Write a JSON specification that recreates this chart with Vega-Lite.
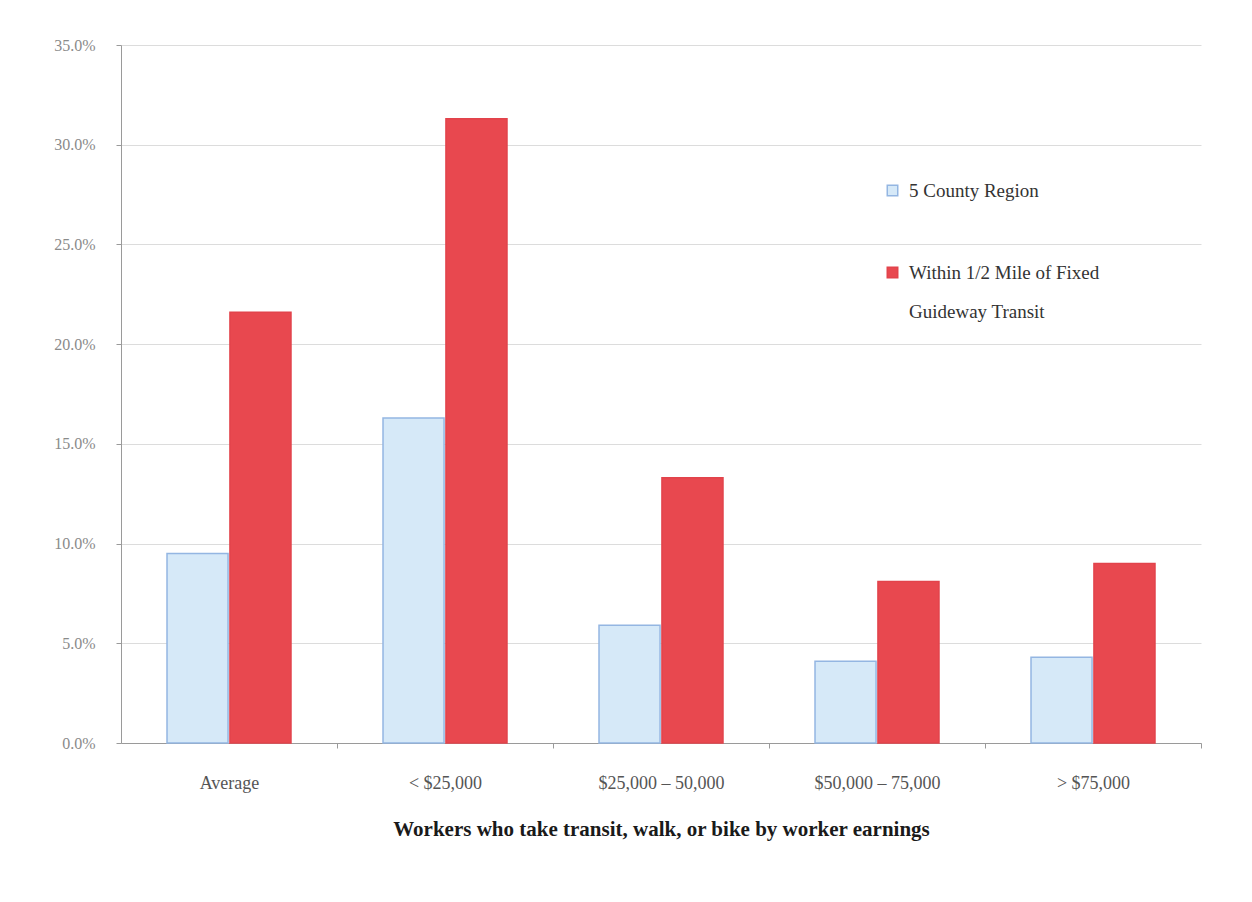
{
  "$schema": "https://vega.github.io/schema/vega-lite/v6.json",
  "autosize": {"type": "none"},
  "width": 1080,
  "height": 698,
  "padding": {"left": 121, "top": 45, "right": 51, "bottom": 159},
  "background": "white",
  "config": {
    "view": {"stroke": null},
    "font": "Liberation Serif",
    "style": {"guide-label": {"lineHeight": 39}}
  },
  "data": {
    "values": [
      {"earnings": "Average", "series": "5 County Region", "share": 9.5},
      {"earnings": "Average", "series": "Within 1/2 Mile of Fixed Guideway Transit", "share": 21.6},
      {"earnings": "< $25,000", "series": "5 County Region", "share": 16.3},
      {"earnings": "< $25,000", "series": "Within 1/2 Mile of Fixed Guideway Transit", "share": 31.3},
      {"earnings": "$25,000 – 50,000", "series": "5 County Region", "share": 5.9},
      {"earnings": "$25,000 – 50,000", "series": "Within 1/2 Mile of Fixed Guideway Transit", "share": 13.3},
      {"earnings": "$50,000 – 75,000", "series": "5 County Region", "share": 4.1},
      {"earnings": "$50,000 – 75,000", "series": "Within 1/2 Mile of Fixed Guideway Transit", "share": 8.1},
      {"earnings": "> $75,000", "series": "5 County Region", "share": 4.3},
      {"earnings": "> $75,000", "series": "Within 1/2 Mile of Fixed Guideway Transit", "share": 9.0}
    ]
  },
  "mark": {"type": "bar", "strokeWidth": 1.5},
  "encoding": {
    "x": {
      "field": "earnings",
      "type": "nominal",
      "sort": ["Average", "< $25,000", "$25,000 – 50,000", "$50,000 – 75,000", "> $75,000"],
      "scale": {"paddingInner": 0.426, "paddingOuter": 0.213},
      "axis": {
        "title": "Workers who take transit, walk, or bike by worker earnings",
        "titleFont": "Liberation Serif",
        "titleFontSize": 21,
        "titleFontWeight": "bold",
        "titleColor": "#1a1a1a",
        "titlePadding": 26,
        "labelAngle": 0,
        "labelFont": "Liberation Serif",
        "labelFontSize": 18,
        "labelColor": "#555555",
        "labelPadding": 26,
        "labelOffset": -108,
        "domainColor": "#9a9a9a",
        "tickColor": "#9a9a9a",
        "tickOffset": 108,
        "tickSize": 5
      }
    },
    "xOffset": {
      "field": "series",
      "type": "nominal",
      "scale": {"paddingInner": 0.03}
    },
    "y": {
      "field": "share",
      "type": "quantitative",
      "scale": {"domain": [0, 35]},
      "axis": {
        "title": null,
        "values": [0, 5, 10, 15, 20, 25, 30, 35],
        "labelExpr": "format(datum.value, '.1f') + '%'",
        "labelFont": "Liberation Serif",
        "labelFontSize": 16,
        "labelColor": "#8a8a8a",
        "labelPadding": 21,
        "domainColor": "#9a9a9a",
        "tickColor": "#9a9a9a",
        "tickSize": 5,
        "gridColor": "#dcdcdc",
        "gridWidth": 1
      }
    },
    "color": {
      "field": "series",
      "type": "nominal",
      "scale": {"range": ["#d6e9f8", "#e8484f"]},
      "legend": {
        "title": null,
        "orient": "none",
        "legendX": 762,
        "legendY": 136,
        "symbolType": "square",
        "symbolSize": 110,
        "symbolStrokeWidth": 1.5,
        "labelFont": "Liberation Serif",
        "labelFontSize": 19,
        "labelColor": "#333333",
        "labelLimit": 400,
        "rowPadding": 62,
        "labelOffset": 7,
        "labelExpr": "datum.label == 'Within 1/2 Mile of Fixed Guideway Transit' ? ['Within 1/2 Mile of Fixed', 'Guideway Transit'] : datum.label"
      }
    },
    "stroke": {
      "field": "series",
      "type": "nominal",
      "scale": {"range": ["#94b6e2", "#e2434b"]},
      "legend": null
    }
  }
}
